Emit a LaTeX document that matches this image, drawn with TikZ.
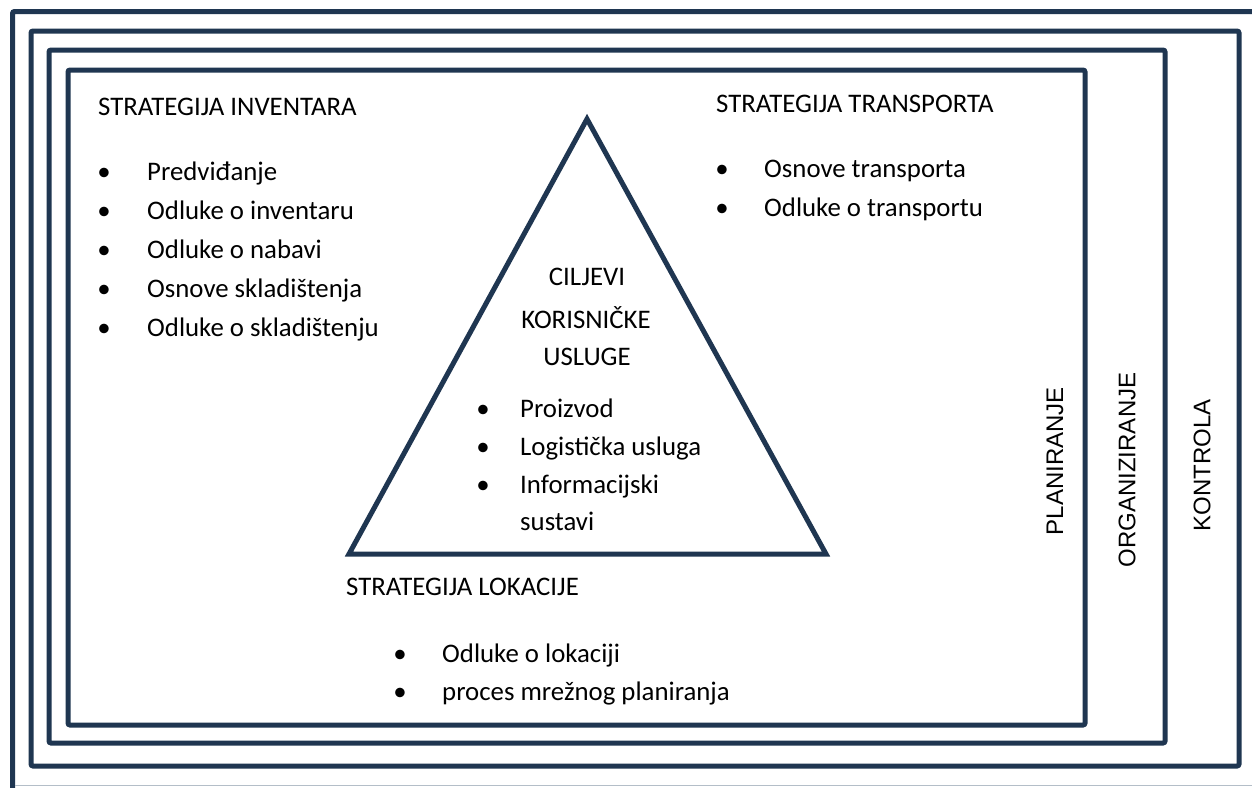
\documentclass[tikz,border=0pt]{standalone}
\usepackage{fontspec}
\setmainfont{Carlito}
\newfontfamily\arialf{Liberation Sans}
\definecolor{navy}{RGB}{31,54,81}
\definecolor{edgegray}{RGB}{180,190,200}
\tikzset{
  frame/.style={draw=navy, line width=5pt, rounded corners=2pt},
  tri/.style={draw=navy, line width=5pt, line join=miter},
  txt/.style={inner sep=0pt, anchor=base west, font=\fontsize{26.8}{30}\selectfont},
  bul/.style={inner sep=0pt, anchor=base, font=\fontsize{26.8}{30}\selectfont},
  ctxt/.style={inner sep=0pt, anchor=base, font=\fontsize{26.8}{30}\selectfont},
  vlabel/.style={inner sep=0pt, rotate=90, font=\arialf\fontsize{24}{28}\selectfont}
}
\begin{document}
\begin{tikzpicture}[x=1pt,y=-1pt]
\useasboundingbox (0,0) rectangle (1252,787);
\fill[white] (0,0) rectangle (1252,787);
\begin{scope}
\clip (0,0) rectangle (1252,787);
\draw[frame] (12.5,11.5) rectangle (1275,810);
\end{scope}
\draw[edgegray, line width=1pt] (15,785.5) -- (1252,785.5);
\draw[frame] (31,31) rectangle (1239,766);
\draw[frame] (49,50) rectangle (1165,743);
\draw[frame] (68,70) rectangle (1085,725);
% triangle
\coordinate (apex) at (587,119);
\coordinate (bl) at (349,554);
\coordinate (br) at (826,554);
\draw[tri] (apex) -- (bl) -- (br) -- cycle;
% inventory
\node[txt] (invt) at (98,115) {STRATEGIJA INVENTARA};
\foreach \i/\t/\y in {1/Predviđanje/180, 2/Odluke o inventaru/219, 3/Odluke o nabavi/258, 4/Osnove skladištenja/297, 5/Odluke o skladištenju/336} {
  \node[bul] (invb\i) at (104,\y) {\textbullet};
  \node[txt] (inv\i) at (147,\y) {\t};
}
% transport
\node[txt] (trt) at (716,112) {STRATEGIJA TRANSPORTA};
\foreach \i/\t/\y in {1/Osnove transporta/177, 2/Odluke o transportu/216} {
  \node[bul] (trb\i) at (722,\y) {\textbullet};
  \node[txt] (tr\i) at (764,\y) {\t};
}
% location
\node[txt] (lot) at (346,595) {STRATEGIJA LOKACIJE};
\foreach \i/\t/\y in {1/Odluke o lokaciji/662, 2/proces mrežnog planiranja/700} {
  \node[bul] (lob\i) at (400,\y) {\textbullet};
  \node[txt] (lo\i) at (442,\y) {\t};
}
% goals
\node[ctxt] (g1) at (587,285) {CILJEVI};
\node[ctxt] (g2) at (586,328) {KORISNIČKE};
\node[ctxt] (g3) at (587,365) {USLUGE};
\foreach \i/\t/\y in {1/Proizvod/417, 2/Logistička usluga/455, 3/Informacijski/493} {
  \node[bul] (gb\i) at (483,\y) {\textbullet};
  \node[txt] (gi\i) at (520,\y) {\t};
}
\node[txt] (gi4) at (520,530) {sustavi};
% vertical labels
\node[vlabel] (plan) at (1055,461) {PLANIRANJE};
\node[vlabel] (org) at (1127,470) {ORGANIZIRANJE};
\node[vlabel] (kon) at (1202,465) {KONTROLA};
\end{tikzpicture}
\end{document}
